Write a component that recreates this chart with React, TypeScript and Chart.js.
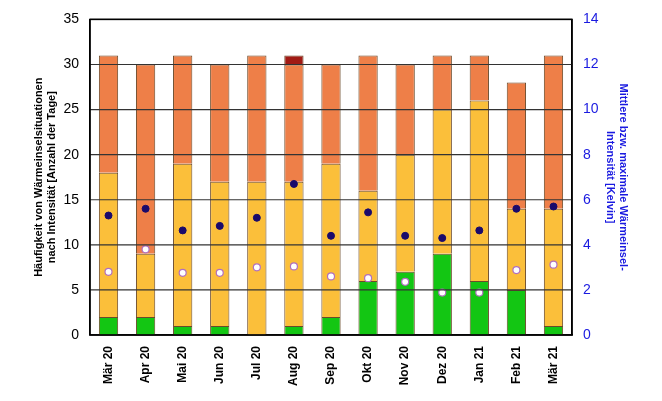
import React, { useEffect, useRef } from "react";
import { Chart, registerables } from "chart.js";
Chart.register(...registerables);

const categories = ["Mär 20","Apr 20","Mai 20","Jun 20","Jul 20","Aug 20","Sep 20","Okt 20","Nov 20","Dez 20","Jan 21","Feb 21","Mär 21"];
const green = [2,2,1,1,0,1,2,6,7,9,6,5,1];
const yellow = [16,7,18,16,17,16,17,10,13,16,20,9,13];
const orange = [13,21,12,13,14,13,11,15,10,6,5,14,17];
const red = [0,0,0,0,0,1,0,0,0,0,0,0,0];
const meanIntensity = [2.8,3.8,2.76,2.76,3.0,3.04,2.6,2.52,2.36,1.88,1.88,2.88,3.12];
const maxIntensity = [5.3,5.6,4.64,4.84,5.2,6.7,4.4,5.44,4.4,4.3,4.64,5.6,5.7];

const frame = {
  id: "frame",
  afterDatasetsDraw(c: any) {
    const { ctx, chartArea: a, scales } = c;
    ctx.save();
    ctx.strokeStyle = "#333";
    ctx.lineWidth = 1.2;
    for (const t of scales.y.ticks) {
      const y = scales.y.getPixelForValue(t.value);
      ctx.beginPath();
      ctx.moveTo(a.left, y);
      ctx.lineTo(a.right, y);
      ctx.stroke();
    }
    ctx.strokeStyle = "#000";
    ctx.lineWidth = 1.5;
    ctx.strokeRect(a.left, a.top, a.right - a.left, a.bottom - a.top);
    ctx.restore();
  },
};

export default function App() {
  const ref = useRef<HTMLCanvasElement>(null);
  useEffect(() => {
    const bar = (label: string, data: number[], c: string) => ({
      type: "bar" as const, label, data, backgroundColor: c, borderColor: "#6b4a2a", borderWidth: 1,
      yAxisID: "y", barPercentage: 0.52, categoryPercentage: 1, order: 2,
    });
    const chart = new Chart(ref.current!, {
      data: {
        labels: categories,
        datasets: [
          bar("schwach", green, "#13c613"),
          bar("mäßig", yellow, "#fbbf3a"),
          bar("stark", orange, "#ee7f48"),
          bar("extrem", red, "#a11a14"),
          { type: "line", label: "max", data: maxIntensity, yAxisID: "y1", showLine: false, pointRadius: 3.5,
            pointBackgroundColor: "#1a0a6b", pointBorderColor: "#1a0a6b", order: 1 },
          { type: "line", label: "mittel", data: meanIntensity, yAxisID: "y1", showLine: false, pointRadius: 3.5,
            pointBackgroundColor: "#ffffff", pointBorderColor: "#b070c0", pointBorderWidth: 1.2, order: 1 },
        ] as any,
      },
      options: {
        animation: false, responsive: false,
        plugins: { legend: { display: false }, tooltip: { enabled: false } },
        layout: { padding: { top: 8, left: 22, right: 22, bottom: 4 } },
        scales: {
          x: { stacked: true, offset: true, grid: { display: false, drawTicks: true },
            border: { color: "#000", width: 1.5 },
            ticks: { color: "#000", maxRotation: 90, minRotation: 90, font: { family: "Liberation Sans", size: 12, weight: "bold" } } },
          y: { stacked: true, min: 0, max: 35, position: "left",
            grid: { display: false }, border: { color: "#000", width: 1.5 },
            ticks: { stepSize: 5, color: "#000", font: { family: "Liberation Sans", size: 14 } },
            title: { display: true, text: ["Häufigkeit von Wärmeinselsituationen", "nach Intensität [Anzahl der Tage]"], color: "#000", padding: 2,
              font: { family: "Liberation Sans", size: 11, weight: "bold" } } },
          y1: { min: 0, max: 14, position: "right", grid: { display: false }, border: { color: "#000", width: 1.5 },
            ticks: { stepSize: 2, color: "#1a1ae0", font: { family: "Liberation Sans", size: 14 } },
            title: { display: true, text: ["Mittlere bzw. maximale Wärmeinsel-", "Intensität [Kelvin]"], color: "#1a1ae0", padding: 2,
              font: { family: "Liberation Sans", size: 11, weight: "bold" } } },
        },
      },
      plugins: [frame],
    });
    return () => chart.destroy();
  }, []);
  return <canvas ref={ref} width={646} height={385} />;
}
